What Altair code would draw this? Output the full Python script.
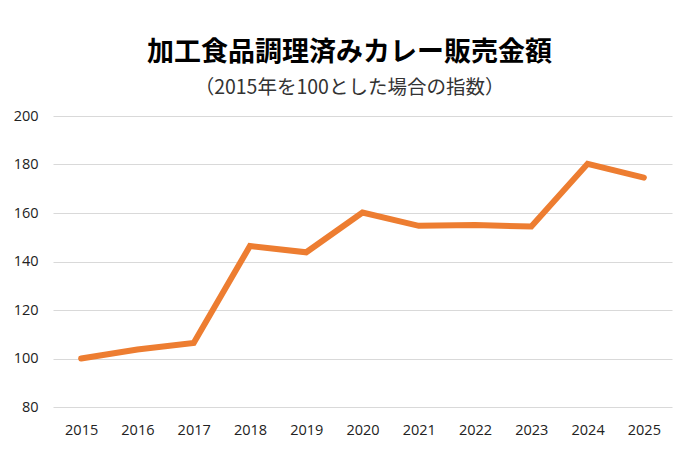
import altair as alt
import pandas as pd

years = ["2015", "2016", "2017", "2018", "2019", "2020", "2021", "2022", "2023", "2024", "2025"]
values = [100, 103.7, 106.4, 146.4, 143.8, 160.2, 154.7, 155.0, 154.4, 180.3, 174.6]
y_ticks = [80, 100, 120, 140, 160, 180, 200]

df = pd.DataFrame({"year": years, "value": values})

chart = (
    alt.Chart(df)
    .mark_line(color="#ED7D31", strokeWidth=6, strokeCap="round", strokeJoin="miter")
    .encode(
        x=alt.X("year:O", sort=years, title=None,
                scale=alt.Scale(type="point", padding=0.5),
                axis=alt.Axis(labelAngle=0, grid=False, domain=False, ticks=False,
                              labelPadding=16, labelFontSize=14.5, labelFont="Open Sans",
                              labelColor="#222222")),
        y=alt.Y("value:Q", title=None,
                scale=alt.Scale(domain=[80, 200], nice=False, zero=False),
                axis=alt.Axis(values=y_ticks, grid=True, gridColor="#D9D9D9", gridWidth=1,
                              domain=False, ticks=False, labelPadding=15,
                              labelFontSize=14.5, labelFont="Open Sans", labelColor="#222222")),
    )
    .properties(
        width=619,
        height=291,
        background="white",
        autosize=alt.AutoSizeParams(type="none"),
        padding={"left": 45, "top": 108, "right": 15, "bottom": 33},
        title=alt.TitleParams(
            text="加工食品調理済みカレー販売金額",
            subtitle="（2015年を100とした場合の指数）",
            font="Noto Sans CJK JP",
            fontSize=27,
            fontWeight="bold",
            color="#000000",
            subtitleFont="Noto Sans CJK JP",
            subtitleFontSize=19.5,
            subtitleColor="#333333",
            subtitlePadding=12,
            anchor="middle",
            offset=10,
            dx=-13,
        ),
    )
    .configure_view(strokeWidth=0, stroke="transparent")
)

chart.save("out.html", embed_options={"renderer": "svg", "actions": False})
